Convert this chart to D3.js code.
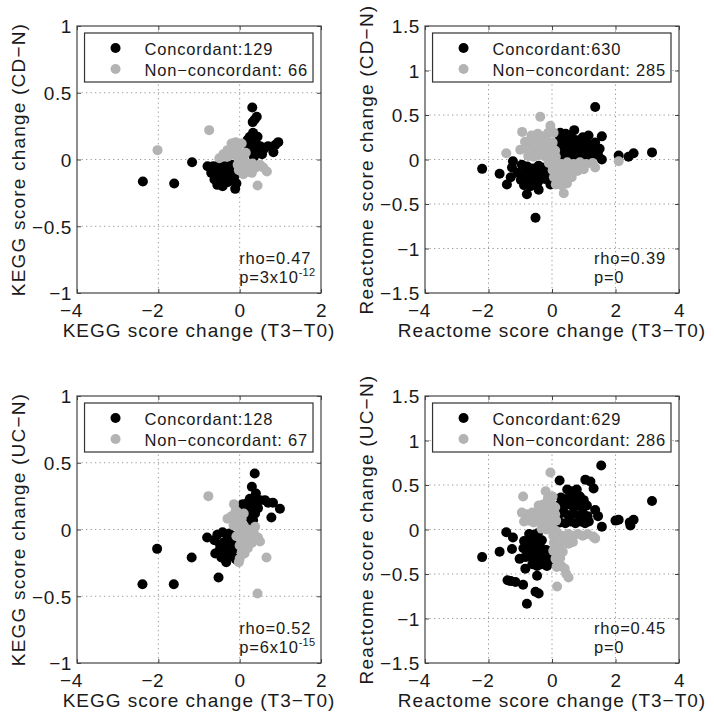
<!DOCTYPE html>
<html>
<head>
<meta charset="utf-8">
<script src="https://cdnjs.cloudflare.com/ajax/libs/d3/7.8.5/d3.min.js"></script>
<style>
  body { margin: 0; background: #fff; }
  svg text { font-family: "Liberation Sans", Arial, Helvetica, sans-serif; fill: #1a1a1a; }
</style>
</head>
<body>
<div id="chart"></div>
<script>
// ---- data ----
var keggXTicks = [-4, -2, 0, 2];
var keggYTicks = [-1, -0.5, 0, 0.5, 1];
var reactXTicks = [-4, -2, 0, 2, 4];
var reactYTicks = [-1.5, -1, -0.5, 0, 0.5, 1, 1.5];

// KEGG, CD-N
var keggCdConc = [[-2.38,-0.165],[-1.61,-0.18],[-1.17,-0.02],[-0.79,-0.05],
  [-0.7,-0.1],[-0.62,-0.15],[-0.58,-0.07],[-0.52,-0.12],[-0.48,-0.18],[-0.45,-0.08],[-0.4,-0.14],
  [-0.36,-0.05],[-0.33,-0.11],[-0.3,-0.17],[-0.26,-0.08],[-0.22,-0.13],[-0.2,-0.04],[-0.17,-0.1],
  [-0.14,-0.16],[-0.11,-0.22],[-0.08,-0.18],[-0.55,-0.19],[-0.42,-0.2],[-0.65,-0.05],[-0.5,-0.04],
  [-0.28,-0.13],[-0.38,-0.1],[-0.12,-0.12],
  [0.31,0.39],[0.42,0.32],[0.32,0.28],[0.37,0.3],[0.25,0.17],[0.44,0.17],[0.17,0.13],[0.22,0.09],
  [0.3,0.13],[0.38,0.08],[0.46,0.05],[0.35,0.02],[0.27,0.05],[0.5,0.1],[0.6,0.08],[0.7,0.1],
  [0.79,0.09],[0.83,0.055],[0.88,0.11],[0.95,0.13],[0.55,0.04],[0.4,0.12],[0.33,0.2],[0.2,0.15]];
var keggCdNon = [[-2.02,0.07],[-0.75,0.22],[0.67,-0.09],[0.44,-0.195],
  [-0.5,0.01],[-0.4,0.04],[-0.3,0.02],[-0.2,0.12],[-0.15,0.07],[-0.1,0.13],[-0.05,0.09],[-0.22,0.05],
  [-0.1,0.03],[0,0.04],[0,-0.01],[0.1,0],[0.08,-0.06],[0.09,-0.11],[0.18,-0.03],[0.25,-0.07],
  [0.32,-0.03],[0.4,-0.06],[0.5,-0.04],[0.58,-0.06],[0.2,-0.09],[-0.05,-0.04],[0.15,0.05],[0.3,-0.1],
  [-0.3,0.07],[0.05,0.12],[-0.02,-0.08],[0.12,-0.08]];

// Reactome, CD-N
var reactCdConc = [[1.36,0.59],[3.15,0.08],[2.57,0.07],[2.41,0.03],[2.1,0.045],[1.57,0.0],
  [1.57,0.26],[1.15,0.27],[1.36,0.19],[1.5,0.12],[0.7,0.33],[0.26,0.3],[0.97,0.25],
  [0.24,0.27],[0.43,0.29],[0.58,0.26],
  [0.2,0.2],[0.38,0.21],[0.56,0.19],[0.74,0.22],[0.9,0.18],[1.08,0.2],
  [0.25,0.12],[0.45,0.13],[0.62,0.11],[0.8,0.13],[0.98,0.11],[1.16,0.13],[1.32,0.1],
  [0.2,0.04],[0.37,0.05],[0.55,0.03],[0.73,0.05],[0.9,0.03],[1.08,0.05],[1.26,0.03],[1.45,0.05],
  [-2.2,-0.105],[-1.65,-0.16],[-1.42,-0.28],[-1.23,-0.02],[-1.26,-0.09],[-0.79,-0.39],[-0.52,-0.655],
  [-0.42,-0.34],[-0.05,-0.28],[-1.3,-0.2],
  [-0.95,-0.06],[-0.78,-0.08],[-0.6,-0.1],[-0.42,-0.07],[-0.22,-0.09],
  [-1.08,-0.15],[-0.88,-0.16],[-0.7,-0.14],[-0.5,-0.17],[-0.3,-0.15],[-0.12,-0.16],
  [-0.98,-0.23],[-0.8,-0.24],[-0.62,-0.22],[-0.42,-0.24],[-0.22,-0.22],[-0.06,-0.21],
  [-0.68,-0.3],[-0.48,-0.29],[-0.88,-0.29]];
var reactCdNon = [[-0.37,0.48],[-0.05,0.38],[-0.94,0.31],[-1.44,0.07],[2.1,-0.02],[1.36,-0.09],
  [0.37,-0.38],[0.05,0.3],
  [-0.65,0.27],[-0.45,0.29],[-0.28,0.26],[-0.12,0.3],
  [-0.85,0.2],[-0.68,0.19],[-0.5,0.21],[-0.32,0.19],[-0.15,0.21],[0.02,0.19],
  [-1.0,0.11],[-0.8,0.12],[-0.62,0.1],[-0.42,0.13],[-0.25,0.11],[-0.06,0.12],[0.1,0.1],
  [-0.75,0.04],[-0.58,0.03],[-0.38,0.05],[-0.2,0.03],[-0.02,0.04],[0.12,0.03],
  [-0.1,-0.04],[0.08,-0.03],[0.28,-0.05],[0.48,-0.03],[0.68,-0.05],[0.88,-0.03],[1.08,-0.05],[1.28,-0.04],
  [0.02,-0.12],[0.2,-0.11],[0.4,-0.13],[0.6,-0.11],[0.8,-0.13],[1.0,-0.11],
  [0.06,-0.2],[0.25,-0.21],[0.44,-0.19],[0.62,-0.2],
  [0.12,-0.28],[0.3,-0.29],[0.47,-0.27]];

// KEGG, UC-N
var keggUcConc = [[-2.03,-0.145],[-2.39,-0.41],[-1.62,-0.41],[-1.18,-0.21],[-0.8,-0.06],[-0.52,-0.36],
  [-0.62,-0.08],[-0.55,-0.04],[-0.48,-0.12],[-0.42,-0.02],[-0.4,-0.1],[-0.35,-0.17],[-0.3,-0.06],
  [-0.28,-0.13],[-0.22,-0.2],[-0.2,-0.09],[-0.15,-0.15],[-0.1,-0.22],[-0.06,-0.23],[-0.33,-0.245],
  [-0.45,-0.21],[-0.6,-0.18],[-0.12,-0.05],[-0.5,-0.16],[-0.25,-0.03],[-0.35,-0.1],[-0.2,-0.16],
  [0.37,0.42],[0.3,0.32],[0.4,0.27],[0.08,0.19],[0.15,0.15],[0.25,0.23],[0.2,0.1],[0.3,0.18],
  [0.45,0.16],[0.62,0.22],[0.82,0.2],[0.99,0.155],[0.78,0.09],[0.33,0.07],[0.38,0.12],[0.5,0.22],
  [0.28,0.04],[0.2,0.2],[0.42,0.21],[0.7,0.2],[0.25,0.12]];
var keggUcNon = [[-0.77,0.25],[-0.14,0.19],[0.66,-0.21],[0.44,-0.48],
  [-0.3,0.08],[-0.2,0.1],[-0.1,0.14],[-0.05,0.06],[-0.15,0.03],[0,0],[0.05,0.08],[0.1,0.03],
  [0.05,-0.05],[0.15,-0.03],[0.25,-0.05],[0.35,-0.03],[0.45,-0.06],[0.5,-0.09],[0.3,-0.1],[0.1,-0.1],
  [0,-0.12],[0.05,-0.17],[0,-0.22],[-0.02,-0.245],[0.2,-0.14],[0.38,0.02],[0.1,0.12],
  [-0.05,0.12],[0.2,0.0],[0.12,-0.18],[-0.08,-0.05]];

// Reactome, UC-N
var reactUcConc = [[1.55,0.72],[3.15,0.32],[0.24,0.55],[1.05,0.56],[1.21,0.54],[1.31,0.46],[1.36,0.22],
  [1.45,0.15],[1.57,0.03],[2.1,0.11],[2.45,0.08],[2.57,0.11],[2.47,0.045],[2.0,0.1],
  [0.48,0.45],[0.62,0.43],[0.78,0.45],
  [0.28,0.36],[0.42,0.34],[0.57,0.37],[0.72,0.35],[0.88,0.37],[1.0,0.33],
  [0.2,0.27],[0.35,0.25],[0.5,0.28],[0.66,0.26],[0.82,0.27],[0.96,0.25],[1.1,0.27],
  [0.22,0.17],[0.37,0.19],[0.52,0.16],[0.68,0.18],[0.84,0.16],[0.98,0.18],[1.12,0.15],
  [0.25,0.08],[0.42,0.07],[0.58,0.09],[0.74,0.07],[0.9,0.09],[1.04,0.07],[1.16,0.09],
  [-2.2,-0.31],[-1.65,-0.25],[-1.44,-0.03],[-1.23,-0.09],[-1.26,-0.22],[-1.02,-0.33],[-0.84,-0.44],
  [-1.4,-0.57],[-1.15,-0.59],[-0.91,-0.62],[-0.47,-0.52],[-0.42,-0.72],[-0.79,-0.835],[-0.52,-0.7],
  [-1.3,-0.58],
  [-0.72,-0.05],[-0.58,-0.06],[-0.44,-0.04],
  [-0.88,-0.13],[-0.74,-0.14],[-0.6,-0.12],[-0.46,-0.14],[-0.32,-0.12],
  [-0.9,-0.21],[-0.76,-0.23],[-0.62,-0.21],[-0.48,-0.23],[-0.33,-0.21],[-0.18,-0.23],
  [-0.84,-0.31],[-0.7,-0.3],[-0.56,-0.32],[-0.42,-0.3],[-0.27,-0.32],[-0.12,-0.3],[-0.02,-0.34],
  [-0.62,-0.39],[-0.47,-0.41],[-0.32,-0.39],[-0.16,-0.41]];
var reactUcNon = [[-0.05,0.64],[-0.2,0.43],[-0.91,0.37],[0.52,-0.54],[0.16,-0.64],[1.36,-0.1],
  [-0.13,0.35],[0.02,0.37],
  [-0.42,0.27],[-0.28,0.28],[-0.14,0.26],[0,0.28],[0.1,0.25],
  [-0.95,0.19],[-0.78,0.17],[-0.62,0.19],[-0.47,0.17],[-0.32,0.19],[-0.17,0.17],[-0.02,0.19],[0.1,0.17],
  [-0.88,0.09],[-0.73,0.1],[-0.58,0.08],[-0.43,0.1],[-0.28,0.08],[-0.13,0.1],[0.02,0.08],[0.13,0.1],
  [-0.33,0.01],[-0.18,0],[-0.04,0.01],[0.1,-0.01],
  [0.04,-0.07],[0.2,-0.05],[0.36,-0.07],[0.52,-0.05],[0.67,-0.07],[0.82,-0.05],[0.97,-0.07],[1.12,-0.05],[1.3,-0.08],
  [0.06,-0.15],[0.22,-0.16],[0.37,-0.14],[0.52,-0.16],[0.66,-0.14],
  [0.04,-0.24],[0.19,-0.23],[0.34,-0.25],
  [0.11,-0.33],[0.26,-0.32],
  [0.15,-0.42],[0.3,-0.41],[0.4,-0.44],[0.45,-0.5]];

var concCounts = [129, 630, 128, 629];
var nonCounts = [66, 285, 67, 286];
var rhoValues = ["0.47", "0.39", "0.52", "0.45"];
var pValues = [["3x10", "-12"], ["0", ""], ["6x10", "-15"], ["0", ""]];

// ---- layout ----
var svgWidth = 714, svgHeight = 722;
var concColor = "#000000", nonColor = "#b3b3b3";
var dotR = 5;

var svg = d3.select("#chart")
  .append("svg")
  .attr("width", svgWidth)
  .attr("height", svgHeight);

var panels = [
  { box: [77, 26, 244, 267], xDomain: [-4, 2], yDomain: [-1, 1], xTicks: keggXTicks, yTicks: keggYTicks,
    conc: keggCdConc, non: keggCdNon, xLabel: "KEGG score change (T3\u2212T0)", yLabel: "KEGG score change (CD\u2212N)" },
  { box: [425, 26, 254, 267], xDomain: [-4, 4], yDomain: [-1.5, 1.5], xTicks: reactXTicks, yTicks: reactYTicks,
    conc: reactCdConc, non: reactCdNon, xLabel: "Reactome score change (T3\u2212T0)", yLabel: "Reactome score change (CD\u2212N)" },
  { box: [77, 396, 244, 267], xDomain: [-4, 2], yDomain: [-1, 1], xTicks: keggXTicks, yTicks: keggYTicks,
    conc: keggUcConc, non: keggUcNon, xLabel: "KEGG score change (T3\u2212T0)", yLabel: "KEGG score change (UC\u2212N)" },
  { box: [425, 396, 254, 267], xDomain: [-4, 4], yDomain: [-1.5, 1.5], xTicks: reactXTicks, yTicks: reactYTicks,
    conc: reactUcConc, non: reactUcNon, xLabel: "Reactome score change (T3\u2212T0)", yLabel: "Reactome score change (UC\u2212N)" }
];

function fmt(d) {
  var s = String(Math.abs(d));
  return d < 0 ? "\u2212" + s : s;
}

function drawPanel(p, i) {
  var left = p.box[0], top = p.box[1], width = p.box[2], height = p.box[3];

  var xScale = d3.scaleLinear().domain(p.xDomain).range([0, width]);
  var yScale = d3.scaleLinear().domain(p.yDomain).range([height, 0]);

  var g = svg.append("g").attr("transform", `translate(${left}, ${top})`);

  // dotted grid
  g.append("g").selectAll("line")
    .data(p.xTicks.slice(1, -1))
    .enter().append("line")
    .attr("x1", d => xScale(d)).attr("x2", d => xScale(d))
    .attr("y1", 0).attr("y2", height)
    .attr("stroke", "#9a9a9a").attr("stroke-dasharray", "1.3,3.2");
  g.append("g").selectAll("line")
    .data(p.yTicks.slice(1, -1))
    .enter().append("line")
    .attr("y1", d => yScale(d)).attr("y2", d => yScale(d))
    .attr("x1", 0).attr("x2", width)
    .attr("stroke", "#9a9a9a").attr("stroke-dasharray", "1.3,3.2");

  // axes (ticks point inward)
  var xAxis = g.append("g")
    .attr("transform", `translate(0, ${height})`)
    .call(d3.axisBottom(xScale).tickValues(p.xTicks).tickSize(-4).tickPadding(10.5).tickFormat(fmt));
  g.append("g")
    .call(d3.axisTop(xScale).tickValues(p.xTicks).tickSize(-4).tickFormat(""));
  var yAxis = g.append("g")
    .call(d3.axisLeft(yScale).tickValues(p.yTicks).tickSize(-4).tickPadding(5).tickFormat(fmt));
  g.append("g")
    .attr("transform", `translate(${width}, 0)`)
    .call(d3.axisRight(yScale).tickValues(p.yTicks).tickSize(-4).tickFormat(""));

  g.selectAll(".domain").remove();
  g.selectAll(".tick line").attr("stroke", "#444");
  g.selectAll(".tick text")
    .attr("font-family", "Liberation Sans, Arial, sans-serif")
    .attr("font-size", 19)
    .attr("letter-spacing", 0.6)
    .attr("fill", "#1a1a1a");
  // negative x labels: digits sit on the tick, minus hangs left
  xAxis.selectAll(".tick text").attr("dx", d => d < 0 ? -6 : 0);
  yAxis.selectAll(".tick text").attr("dy", "0.36em");

  // points
  g.append("g").selectAll("circle")
    .data(p.conc)
    .enter().append("circle")
    .attr("cx", d => xScale(d[0]))
    .attr("cy", d => yScale(d[1]))
    .attr("r", dotR)
    .attr("fill", concColor);
  g.append("g").selectAll("circle")
    .data(p.non)
    .enter().append("circle")
    .attr("cx", d => xScale(d[0]))
    .attr("cy", d => yScale(d[1]))
    .attr("r", dotR)
    .attr("fill", nonColor);

  // box
  g.append("rect")
    .attr("width", width).attr("height", height)
    .attr("fill", "none").attr("stroke", "#444").attr("stroke-width", 1.2);

  // legend
  var leg = g.append("g");
  var legRect = leg.append("rect")
    .attr("fill", "#fff").attr("stroke", "#333").attr("stroke-width", 1.2);
  var t1 = leg.append("text").attr("x", 60).attr("y", 22)
    .attr("font-size", 16.5).attr("letter-spacing", 0.8)
    .text("Concordant:" + concCounts[i]);
  var t2 = leg.append("text").attr("x", 60).attr("y", 43)
    .attr("font-size", 16.5).attr("letter-spacing", 0.8)
    .text("Non\u2212concordant: " + nonCounts[i]);
  leg.append("circle").attr("cx", 31).attr("cy", 15).attr("r", dotR).attr("fill", concColor);
  leg.append("circle").attr("cx", 31).attr("cy", 36).attr("r", dotR).attr("fill", nonColor);
  var legW = 60 + Math.max(t1.node().getComputedTextLength(), t2.node().getComputedTextLength()) + 5;
  legRect.attr("width", legW).attr("height", 49);
  leg.attr("transform", `translate(${width - 8 - legW}, 7)`);

  // stats
  var sx = width * 0.665;
  g.append("text").attr("x", sx).attr("y", height - 29)
    .attr("font-size", 16.5).attr("letter-spacing", 0.8)
    .text("rho=" + rhoValues[i]);
  var pt = g.append("text").attr("x", sx).attr("y", height - 10)
    .attr("font-size", 16.5).attr("letter-spacing", 0.8)
    .text("p=" + pValues[i][0]);
  if (pValues[i][1]) {
    pt.append("tspan").attr("dy", -7).attr("font-size", 11).attr("letter-spacing", 0.3)
      .text(pValues[i][1]);
  }

  // axis labels
  g.append("text")
    .attr("x", width / 2).attr("y", height + 44)
    .attr("text-anchor", "middle")
    .attr("font-size", 19).attr("letter-spacing", 1)
    .text(p.xLabel);
  g.append("text")
    .attr("transform", "rotate(-90)")
    .attr("x", -height / 2).attr("y", -52)
    .attr("text-anchor", "middle")
    .attr("font-size", 19).attr("letter-spacing", 1.2)
    .text(p.yLabel);
}

panels.forEach(drawPanel);
</script>
</body>
</html>
